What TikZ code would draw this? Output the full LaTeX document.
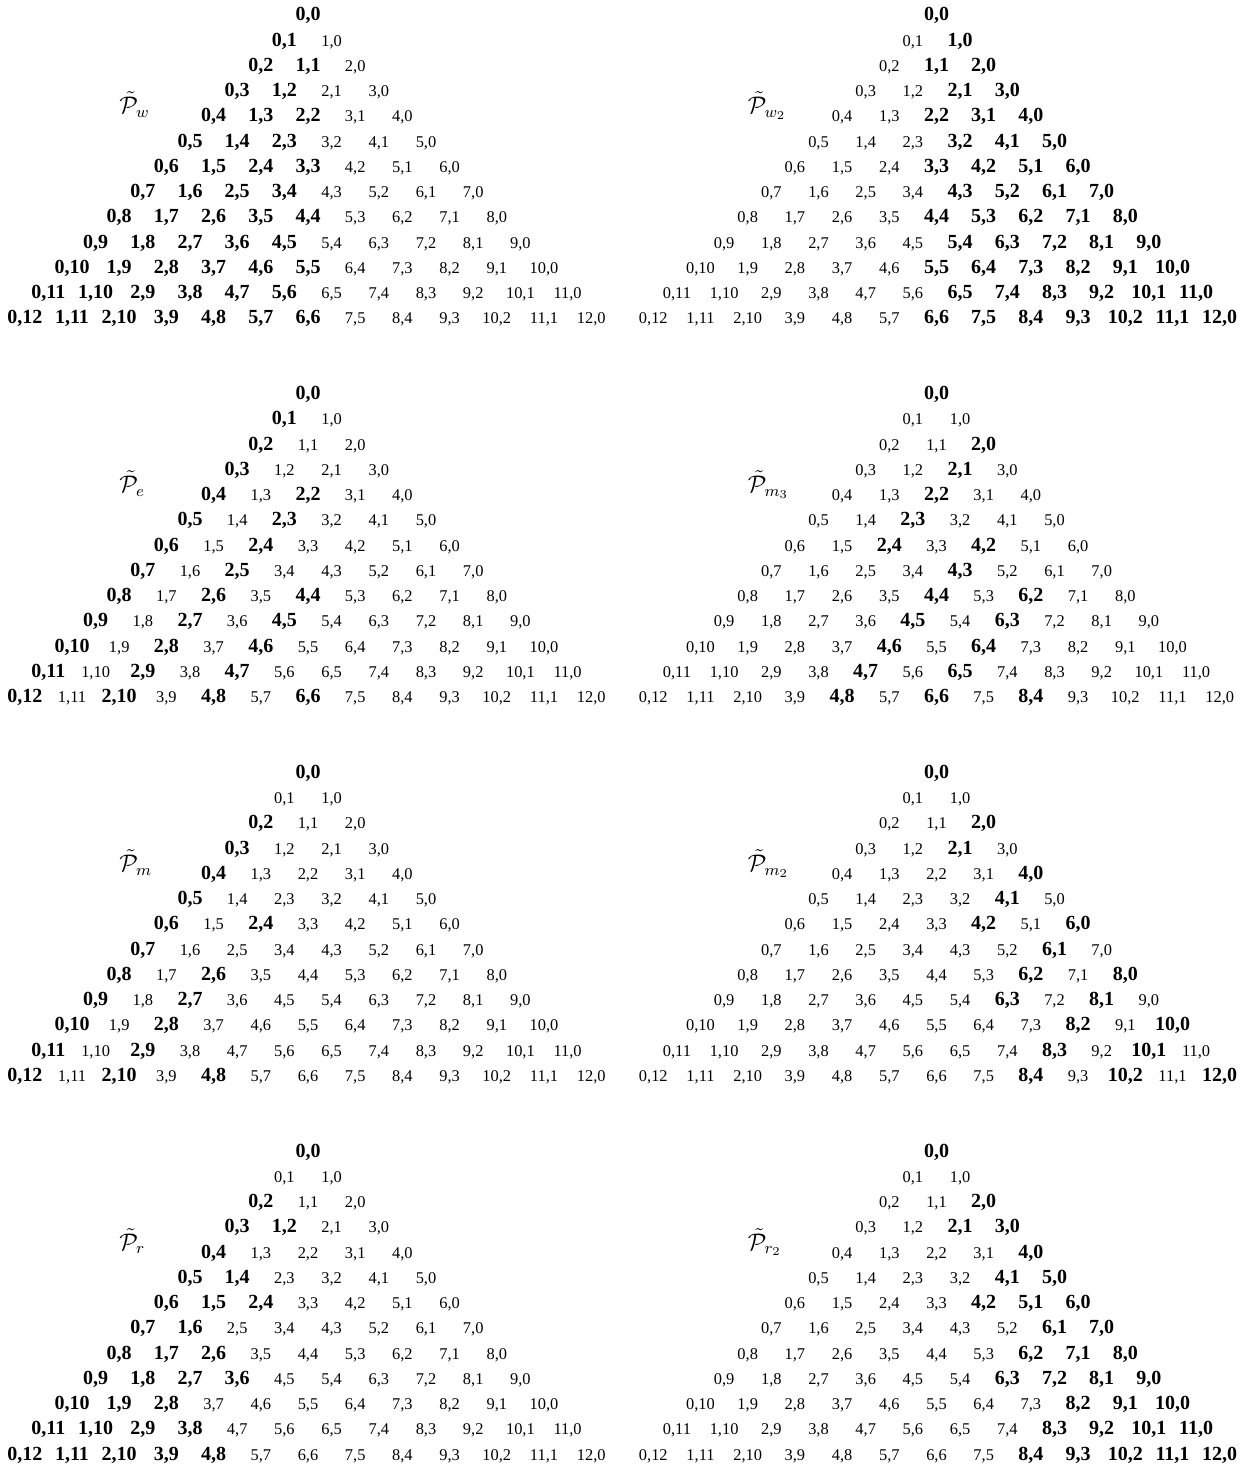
\documentclass[tikz,border=0pt]{standalone}
\usepackage{amsmath}
\usepackage{amssymb}
\usepackage{fontspec}
\setmainfont{Liberation Serif}
\usepackage{tikz}

\tikzset{
  pairbig/.style={font=\fontsize{10}{12}\selectfont\bfseries, inner sep=0pt, anchor=base},
  pairsmall/.style={font=\fontsize{8.2}{10}\selectfont, inner sep=0pt, anchor=base},
  setlabel/.style={font=\fontsize{12}{14}\selectfont, inner sep=0pt, anchor=base west}
}

\begin{document}
\begin{tikzpicture}[x=0.5pt, y=-0.5pt]
        % Page size of the reference
        \useasboundingbox (0,0) rectangle (1246,1470);

        % One triangle of pairs i,j with i+j=n per panel; bold where the condition holds
        \foreach \p/\cx/\cy/\sub/\cond in {
            w/308/0/{w}/{\i<=\j},
            wtwo/936.5/0/{w_2}/{\i>=\j},
            e/308/378.7/{e}/{mod(\i,2)==0 && \i<=\j},
            mthree/936.5/378.7/{m_3}/{mod(\i,2)==0 && \j<=2*\i && \j>=2*floor(\i*0.25)},
            m/308/757.4/{m}/{mod(\i,2)==0 && \j>=2*\i && \j!=2*\i+1},
            mtwo/936.5/757.4/{m_2}/{mod(\i,2)==0 && \i>=2*\j},
            r/308/1136.1/{r}/{\j>=2*\i && \j!=2*\i+1},
            rtwo/936.5/1136.1/{r_2}/{\i>=2*\j && \i!=2*\j+1}}
        {
            % Name of the set, left of the triangle
            \node[setlabel] (lab-\p) at ({\cx-189}, {\cy+114}) {$\tilde{\mathcal{P}}_{\sub}$};

            \foreach \n in {0,...,12}
                \foreach \i in {0,...,\n} {
                    \pgfmathtruncatemacro{\j}{\n-\i}
                    \pgfmathtruncatemacro{\isbig}{\cond}
                    \ifnum\isbig=1
                        \node[pairbig] (\p-\i-\j) at ({\cx+(\i-\j)*23.6}, {\cy+21+\n*25.25}) {\i,\j};
                    \else
                        \node[pairsmall] (\p-\i-\j) at ({\cx+(\i-\j)*23.6}, {\cy+21+\n*25.25}) {\i,\j};
                    \fi
                }
        }

\end{tikzpicture}
\end{document}
